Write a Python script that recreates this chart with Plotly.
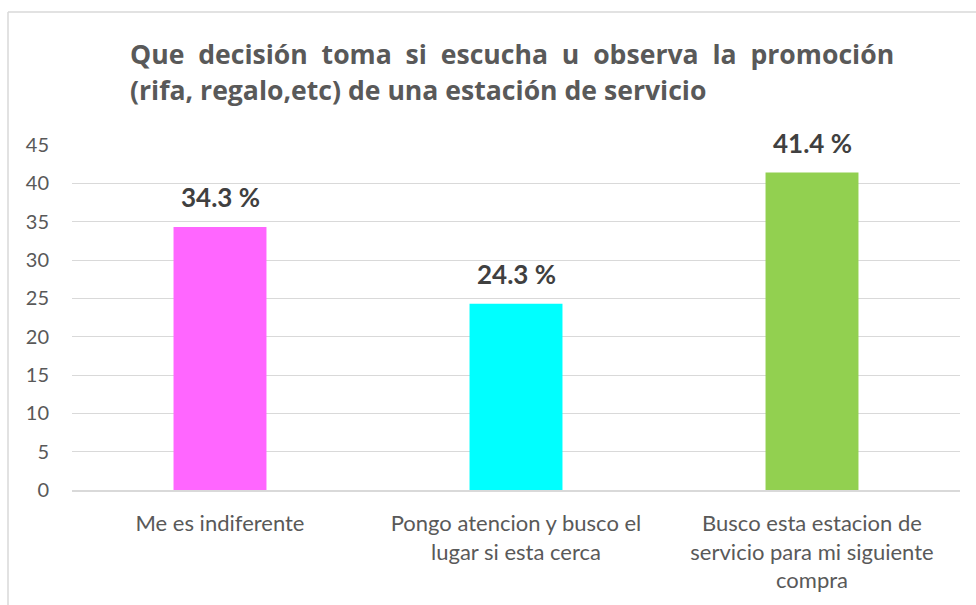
import plotly.graph_objects as go

categories = ["Me es indiferente",
              "Pongo atencion y busco el<br>lugar si esta cerca",
              "Busco esta estacion de<br>servicio para mi siguiente<br>compra"]
values = [34.3, 24.3, 41.4]
colors = ["#FF66FF", "#00FFFF", "#92D050"]
title_line1 = ["Que", "decisión", "toma", "si", "escucha", "u", "observa", "la", "promoción"]
title_line2 = "(rifa, regalo,etc) de una estación de servicio"
y_ticks = [0, 5, 10, 15, 20, 25, 30, 35, 40, 45]

W, H = 976, 605
L, R, T, B = 72, 16, 145, 115
pw, ph = W - L - R, H - T - B

def px_x(px):
    return (px - L) / pw

def px_y(py):
    return (H - B - py) / ph

fig = go.Figure()
fig.add_trace(go.Bar(x=categories, y=values, marker=dict(color=colors, line=dict(width=0)),
                     hoverinfo="skip"))

font_family = "Lato, 'Open Sans', sans-serif"
title_family = "'Open Sans', Lato, sans-serif"
annotations = []
for c, v in zip(categories, values):
    annotations.append(dict(x=c, y=v, xref="x", yref="y", text=f"<b>{v} %</b>", showarrow=False,
                            yshift=30, yanchor="middle",
                            font=dict(family=font_family, size=26, color="#404040")))

gap = "&nbsp; "
annotations.append(dict(x=px_x(128), y=px_y(54), xref="paper", yref="paper", xanchor="left",
                        yanchor="middle", showarrow=False,
                        text="<b>" + gap.join(title_line1) + "</b>",
                        font=dict(family=title_family, size=26.6, color="#595959")))
annotations.append(dict(x=px_x(128), y=px_y(90), xref="paper", yref="paper", xanchor="left",
                        yanchor="middle", showarrow=False,
                        text="<b>" + title_line2 + "</b>",
                        font=dict(family=title_family, size=26.6, color="#595959")))

shapes = [
    dict(type="line", xref="paper", yref="paper", x0=px_x(8), x1=px_x(8), y0=px_y(12), y1=px_y(640),
         line=dict(color="#D9D9D9", width=1.5)),
    dict(type="line", xref="paper", yref="paper", x0=px_x(8), x1=px_x(1000), y0=px_y(12), y1=px_y(12),
         line=dict(color="#D9D9D9", width=1.5)),
]

fig.update_layout(
    width=W, height=H,
    margin=dict(l=L, r=R, t=T, b=B),
    paper_bgcolor="white", plot_bgcolor="white",
    showlegend=False,
    bargap=0.686,
    annotations=annotations,
    shapes=shapes,
    xaxis=dict(showgrid=False, showline=True, linecolor="#D9D9D9", linewidth=1.5,
               ticks="", tickfont=dict(family=font_family, size=22, color="#595959"),
               ticklabelstandoff=13, fixedrange=True),
    yaxis=dict(range=[0, 45], tickvals=y_ticks, showgrid=True, gridcolor="#D9D9D9", gridwidth=1.3,
               zeroline=False, showline=False, ticks="",
               tickfont=dict(family=font_family, size=20, color="#595959"),
               ticklabelstandoff=22, fixedrange=True),
)

fig.write_html("out.html", config={"displayModeBar": False},
               post_script="document.body.style.margin='0';")
